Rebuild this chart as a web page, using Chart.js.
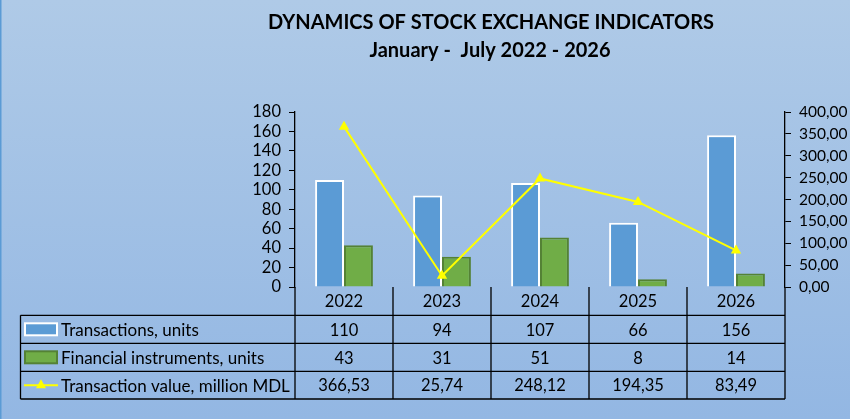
<!DOCTYPE html>
<html>
<head>
<meta charset="utf-8">
<script src="https://cdn.jsdelivr.net/npm/chart.js@4.4.1/dist/chart.umd.min.js"></script>
<style>
  html, body { margin: 0; padding: 0; background: #adc8e6; }
  #wrap { width: 850px; height: 419px; }
</style>
</head>
<body>
<div id="wrap"><canvas id="chart" width="850" height="419"></canvas></div>
<script>
// -------------------------------
// Data
// -------------------------------
const years = ["2022", "2023", "2024", "2025", "2026"];
const transactions = [110, 94, 107, 66, 156];
const instruments = [43, 31, 51, 8, 14];
const transactionValue = [366.53, 25.74, 248.12, 194.35, 83.49];

const seriesNames = [
  "Transactions, units",
  "Financial instruments, units",
  "Transaction value, million MDL",
];
const titleLines = ["DYNAMICS OF STOCK EXCHANGE INDICATORS", "January -  July 2022 - 2026"];

const FONT = "Lato, 'Open Sans', sans-serif";
const BLUE = "#5b9bd5";
const GREEN = "#70ad47";
const GREEN_EDGE = "#548235";
const YELLOW = "#ffff00";

function fmt2(v) {
  return v.toFixed(2).replace(".", ",");
}

// -------------------------------
// Background, title and data table
// -------------------------------
const decorPlugin = {
  id: "decor",
  beforeDraw(chart) {
    const ctx = chart.ctx;
    const g = ctx.createLinearGradient(0, 0, 0, chart.height);
    g.addColorStop(0, "#afcae7");
    g.addColorStop(1, "#93b7e3");
    ctx.save();
    ctx.fillStyle = g;
    ctx.fillRect(0, 0, chart.width, chart.height);
    ctx.fillStyle = BLUE;
    ctx.fillRect(0, 0, 1.5, chart.height);
    ctx.restore();
  },
  afterDraw(chart) {
    const ctx = chart.ctx;
    const x = chart.scales.x;
    const area = chart.chartArea;
    ctx.save();

    // title
    ctx.fillStyle = "#000";
    ctx.textAlign = "center";
    ctx.textBaseline = "alphabetic";
    ctx.font = "bold 20px " + FONT;
    ctx.fillText(titleLines[0], 491, 29);
    ctx.fillText(titleLines[1], 490, 57);

    // table grid
    const rows = [area.bottom, 315.3, 343.3, 371.3, 399];
    const tableLeft = 20.5;
    const step = x.getPixelForValue(1) - x.getPixelForValue(0);
    ctx.strokeStyle = "#000";
    ctx.lineWidth = 1.3;
    ctx.beginPath();
    for (let r = 1; r < rows.length; r++) {
      ctx.moveTo(tableLeft, rows[r]);
      ctx.lineTo(area.right, rows[r]);
    }
    ctx.moveTo(tableLeft, rows[1]);
    ctx.lineTo(tableLeft, rows[4]);
    for (let i = 0; i <= years.length; i++) {
      const px = x.getPixelForValue(0) - step / 2 + i * step;
      ctx.moveTo(px, rows[0]);
      ctx.lineTo(px, rows[4]);
    }
    ctx.stroke();

    // table text
    ctx.font = "16.5px " + FONT;
    ctx.textBaseline = "middle";
    const cols = [years, transactions, instruments, transactionValue.map(fmt2)];
    cols.forEach((vals, r) => {
      const cy = (rows[r] + rows[r + 1]) / 2 + 1;
      vals.forEach((v, i) => {
        ctx.fillText(String(v), x.getPixelForValue(i), cy);
      });
    });

    // legend keys and names
    ctx.textAlign = "left";
    ctx.font = "17px " + FONT;
    seriesNames.forEach((name, r) => {
      const cy = (rows[r + 1] + rows[r + 2]) / 2;
      ctx.fillStyle = "#000";
      ctx.fillText(name, 61, cy + 1);
      if (r === 0) {
        ctx.fillStyle = BLUE;
        ctx.fillRect(25, cy - 6, 32, 12);
        ctx.strokeStyle = "#ffffff";
        ctx.lineWidth = 2;
        ctx.strokeRect(25, cy - 6, 32, 12);
      } else if (r === 1) {
        ctx.fillStyle = GREEN;
        ctx.fillRect(25, cy - 6, 32, 12);
        ctx.strokeStyle = GREEN_EDGE;
        ctx.lineWidth = 2;
        ctx.strokeRect(25, cy - 6, 32, 12);
      } else {
        ctx.strokeStyle = YELLOW;
        ctx.lineWidth = 2;
        ctx.beginPath();
        ctx.moveTo(24, cy);
        ctx.lineTo(58, cy);
        ctx.stroke();
        ctx.fillStyle = YELLOW;
        ctx.beginPath();
        ctx.moveTo(41, cy - 6);
        ctx.lineTo(46, cy + 3);
        ctx.lineTo(36, cy + 3);
        ctx.closePath();
        ctx.fill();
      }
    });
    ctx.restore();
  },
};

// -------------------------------
// Chart
// -------------------------------
new Chart(document.getElementById("chart"), {
  data: {
    labels: years,
    datasets: [
      {
        type: "line",
        label: seriesNames[2],
        data: transactionValue,
        yAxisID: "y2",
        borderColor: YELLOW,
        backgroundColor: YELLOW,
        borderWidth: 2,
        pointStyle: "triangle",
        pointRadius: 6,
        pointBorderWidth: 0,
        tension: 0,
        order: 0,
      },
      {
        type: "bar",
        label: seriesNames[0],
        data: transactions,
        yAxisID: "y",
        backgroundColor: BLUE,
        borderColor: "#ffffff",
        borderWidth: 2,
        order: 1,
      },
      {
        type: "bar",
        label: seriesNames[1],
        data: instruments,
        yAxisID: "y",
        backgroundColor: GREEN,
        borderColor: GREEN_EDGE,
        borderWidth: 2,
        order: 1,
      },
    ],
  },
  options: {
    responsive: false,
    animation: false,
    devicePixelRatio: 1,
    layout: { padding: { top: 112, bottom: 132, left: 0, right: 0 } },
    datasets: { bar: { barPercentage: 1, categoryPercentage: 0.59 } },
    plugins: {
      legend: { display: false },
      tooltip: { enabled: false },
      title: { display: false },
    },
    scales: {
      x: {
        display: false,
        offset: true,
      },
      y: {
        position: "left",
        min: 0,
        max: 180,
        ticks: {
          stepSize: 20,
          autoSkip: false,
          color: "#000",
          font: { family: FONT, size: 16.5 },
          padding: 8,
        },
        grid: { drawOnChartArea: false, color: "#000", tickLength: 6 },
        border: { color: "#000", width: 1.3 },
        afterFit(s) { s.width = 295; },
      },
      y2: {
        position: "right",
        min: 0,
        max: 400,
        ticks: {
          stepSize: 50,
          autoSkip: false,
          color: "#000",
          font: { family: FONT, size: 15.5 },
          padding: 8,
          callback: (v) => fmt2(v),
        },
        grid: { drawOnChartArea: false, color: "#000", tickLength: 6 },
        border: { color: "#000", width: 1.3 },
        afterFit(s) { s.width = 65; },
      },
    },
  },
  plugins: [decorPlugin],
});
</script>
</body>
</html>
